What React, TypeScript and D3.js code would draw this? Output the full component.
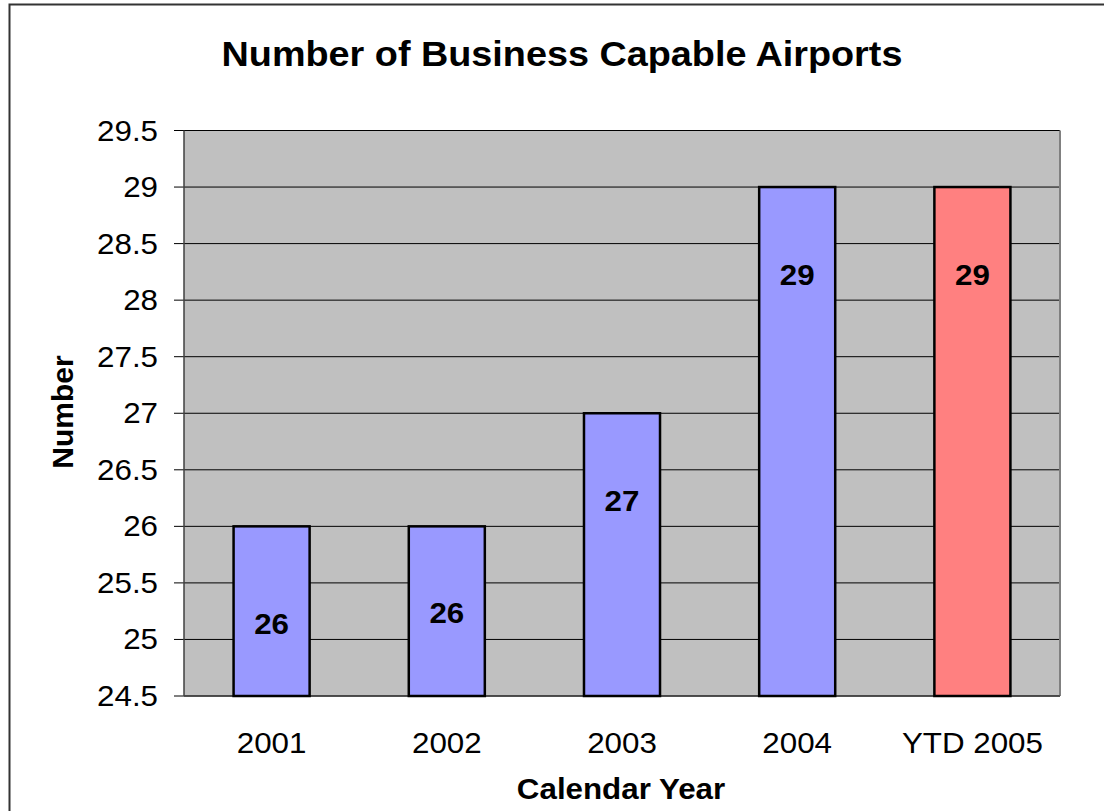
import React from "react";
import * as d3 from "d3";

const categories = ["2001", "2002", "2003", "2004", "YTD 2005"];
const values = [26, 26, 27, 29, 29];
const labelPos = [25.14, 25.23, 26.22, 28.22, 28.22];
const barColors = ["#9999ff", "#9999ff", "#9999ff", "#9999ff", "#ff8080"];
const yTicks = [24.5, 25, 25.5, 26, 26.5, 27, 27.5, 28, 28.5, 29, 29.5];
const title = "Number of Business Capable Airports";
const xTitle = "Calendar Year";
const yTitle = "Number";

const W = 1104;
const H = 811;
const plot = { left: 184, right: 1060, top: 130.5, bottom: 696 };
const SX = 1.08;
const FONT = "'Liberation Sans', Arial, Helvetica, sans-serif";

function T({ x, y, anchor = "middle", size, bold = false, children, baseline = "auto" }: any) {
  return (
    <text
      transform={`translate(${x},${y}) scale(${SX},1)`}
      textAnchor={anchor}
      dominantBaseline={baseline}
      fontFamily={FONT}
      fontSize={size}
      fontWeight={bold ? "bold" : "normal"}
      fill="#000"
    >
      {children}
    </text>
  );
}

export default function App() {
  const x = d3.scaleBand<string>().domain(categories).range([plot.left, plot.right]).paddingInner(0.566).paddingOuter(0.283);
  const y = d3.scaleLinear().domain([24.5, 29.5]).range([plot.bottom, plot.top]);
  const fmt = (v: number) => (Number.isInteger(v) ? String(v) : String(v));

  return (
    <svg width={W} height={H} style={{ position: "absolute", left: 0, top: 0 }}>
      <rect x={0} y={0} width={W} height={H} fill="#fff" />
      <rect x={9.5} y={4.5} width={W + 20} height={H + 20} fill="none" stroke="#333" strokeWidth={2} />
      <T x={562} y={66} size={35} bold>{title}</T>
      <rect x={plot.left} y={plot.top} width={plot.right - plot.left} height={plot.bottom - plot.top} fill="#c0c0c0" />
      {yTicks.map((t) => (
        <g key={t}>
          <line x1={plot.left} x2={plot.right} y1={y(t)} y2={y(t)} stroke="#000" strokeWidth={1} />
          <line x1={plot.left - 10} x2={plot.left} y1={y(t)} y2={y(t)} stroke="#000" strokeWidth={1} />
          <T x={158} y={y(t) + 10} anchor="end" size={29}>{fmt(t)}</T>
        </g>
      ))}
      <line x1={plot.right} x2={plot.right} y1={plot.top} y2={plot.bottom} stroke="#808080" strokeWidth={2} />
      <line x1={plot.left} x2={plot.left} y1={plot.top} y2={plot.bottom} stroke="#404040" strokeWidth={1.5} />
      <line x1={plot.left} x2={plot.right} y1={plot.bottom} y2={plot.bottom} stroke="#404040" strokeWidth={1.5} />
      {categories.map((c, i) => (
        <g key={c}>
          <rect
            x={x(c)!}
            y={y(values[i])}
            width={x.bandwidth()}
            height={y(24.5) - y(values[i])}
            fill={barColors[i]}
            stroke="#000"
            strokeWidth={2.5}
          />
          <T x={x(c)! + x.bandwidth() / 2} y={y(labelPos[i]) + 10} size={29} bold>
            {values[i]}
          </T>
          <T x={x(c)! + x.bandwidth() / 2} y={753} size={29}>{c}</T>
        </g>
      ))}
      <T x={621} y={799} size={29} bold>{xTitle}</T>
      <text
        transform={`translate(73,412) rotate(-90)`}
        textAnchor="middle"
        fontFamily={FONT}
        fontSize={30}
        fontWeight="bold"
      >
        {yTitle}
      </text>
    </svg>
  );
}
